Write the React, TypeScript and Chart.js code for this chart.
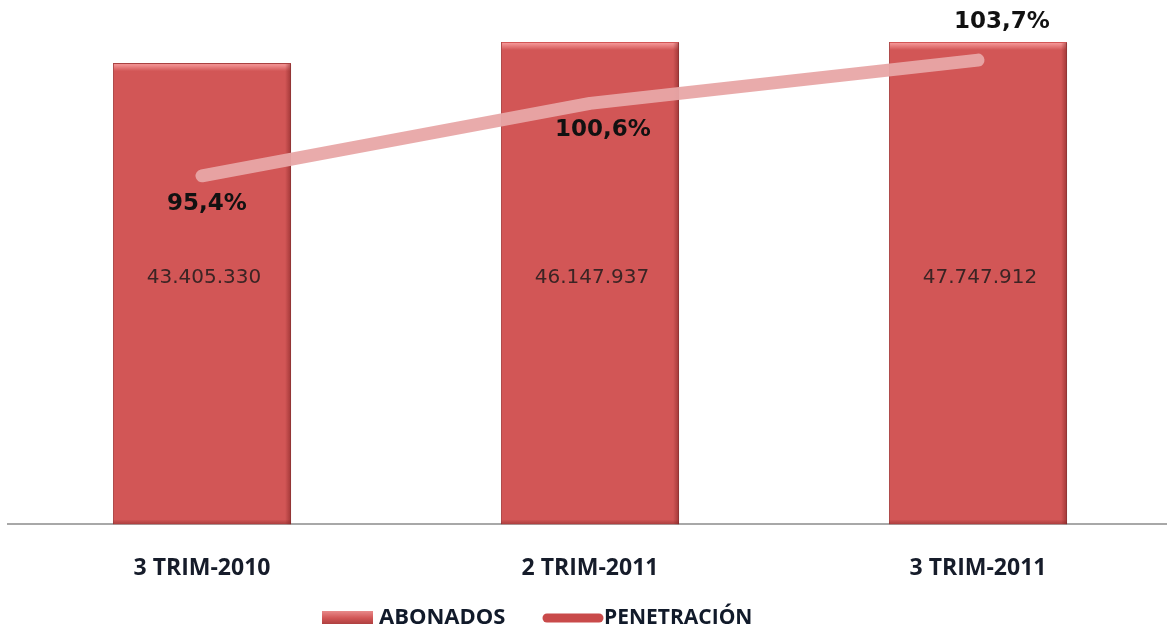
import { useEffect, useRef } from "react";
import { Chart, registerables } from "chart.js";

Chart.register(...registerables);

const categories = ["3 TRIM-2010", "2 TRIM-2011", "3 TRIM-2011"];
const abonados = [43405330, 46147937, 47747912];
const penetracion = [95.4, 100.6, 103.7];
const seriesNames = ["ABONADOS", "PENETRACIÓN"];

// label offsets (styling only) relative to the line points
const pctOffsets = [
  [5, 28],
  [13, 27],
  [24, -38],
];

const BAR_COLOR = "#d25656";
const BAR_BORDER = "#a94242";
const LINE_COLOR = "rgba(232,166,166,0.95)";

function fmtThousands(v: number) {
  return String(Math.round(v)).replace(/\B(?=(\d{3})+(?!\d))/g, ".");
}
function fmtPct(v: number) {
  return v.toFixed(1).replace(".", ",") + "%";
}

const bevelPlugin = {
  id: "bevel",
  afterDatasetDraw(chart: any, args: any) {
    if (args.index !== 0) return;
    const { ctx, chartArea } = chart;
    const meta = chart.getDatasetMeta(0);
    ctx.save();
    ctx.beginPath();
    ctx.rect(chartArea.left, chartArea.top, chartArea.right - chartArea.left, chartArea.bottom - chartArea.top);
    ctx.clip();
    meta.data.forEach((bar: any) => {
      const left = bar.x - bar.width / 2;
      const right = bar.x + bar.width / 2;
      const top = Math.max(bar.y, chartArea.top);
      const bottom = bar.base;
      const g = ctx.createLinearGradient(0, top, 0, top + 8);
      g.addColorStop(0, "rgba(255,170,170,0.9)");
      g.addColorStop(1, "rgba(255,170,170,0)");
      ctx.fillStyle = g;
      ctx.fillRect(left + 1, top + 1, bar.width - 2, 8);
      const gr = ctx.createLinearGradient(right - 6, 0, right, 0);
      gr.addColorStop(0, "rgba(120,30,30,0)");
      gr.addColorStop(1, "rgba(120,30,30,0.55)");
      ctx.fillStyle = gr;
      ctx.fillRect(right - 6, top + 1, 6, bottom - top - 1);
      const gb = ctx.createLinearGradient(0, bottom - 5, 0, bottom);
      gb.addColorStop(0, "rgba(120,30,30,0)");
      gb.addColorStop(1, "rgba(120,30,30,0.45)");
      ctx.fillStyle = gb;
      ctx.fillRect(left, bottom - 5, bar.width, 5);
    });
    ctx.restore();
  },
};

const labelsPlugin = {
  id: "valueLabels",
  afterDatasetsDraw(chart: any) {
    const { ctx } = chart;
    const barMeta = chart.getDatasetMeta(0);
    const lineMeta = chart.getDatasetMeta(1);
    ctx.save();
    ctx.textAlign = "center";
    ctx.textBaseline = "middle";
    ctx.fillStyle = "#3b2424";
    ctx.font = "20px 'DejaVu Sans'";
    barMeta.data.forEach((bar: any, i: number) => {
      ctx.fillText(fmtThousands(abonados[i]), bar.x + 2, 278);
    });
    ctx.fillStyle = "#111111";
    ctx.font = "bold 23px 'DejaVu Sans'";
    lineMeta.data.forEach((pt: any, i: number) => {
      const [dx, dy] = pctOffsets[i];
      ctx.fillText(fmtPct(penetracion[i]), pt.x + dx, pt.y + dy);
    });
    ctx.restore();
  },
};

const legendPlugin = {
  id: "customLegend",
  afterDraw(chart: any) {
    const { ctx } = chart;
    const y = 618;
    ctx.save();
    const g = ctx.createLinearGradient(0, y - 7, 0, y + 7);
    g.addColorStop(0, "#e88a8a");
    g.addColorStop(0.5, "#d25656");
    g.addColorStop(1, "#a83c3c");
    ctx.fillStyle = g;
    ctx.fillRect(322, y - 7, 51, 13);
    ctx.fillStyle = "#111a2a";
    ctx.font = "bold 22px 'Open Sans'";
    ctx.textBaseline = "middle";
    ctx.textAlign = "left";
    ctx.fillText(seriesNames[0], 379, y);
    ctx.strokeStyle = "#c94a4a";
    ctx.lineWidth = 9;
    ctx.lineCap = "round";
    ctx.beginPath();
    ctx.moveTo(547, y);
    ctx.lineTo(599, y);
    ctx.stroke();
    ctx.font = "bold 21px 'Open Sans'";
    ctx.fillText(seriesNames[1], 604, y);
    ctx.restore();
  },
};

export default function App() {
  const ref = useRef<HTMLCanvasElement | null>(null);
  useEffect(() => {
    if (!ref.current) return;
    const chart = new Chart(ref.current, {
      type: "bar",
      data: {
        labels: categories,
        datasets: [
          {
            type: "bar",
            label: seriesNames[0],
            data: abonados,
            backgroundColor: BAR_COLOR,
            borderColor: BAR_BORDER,
            borderWidth: 1,
            yAxisID: "y",
            order: 1,
            categoryPercentage: 1,
            barPercentage: 0.459,
          },
          {
            type: "line",
            label: seriesNames[1],
            data: penetracion,
            borderColor: LINE_COLOR,
            borderWidth: 13,
            borderCapStyle: "round",
            borderJoinStyle: "round",
            pointRadius: 0,
            tension: 0,
            yAxisID: "y2",
            order: 0,
            clip: false,
          } as any,
        ],
      },
      options: {
        responsive: false,
        animation: false,
        events: [],
        layout: { padding: { top: 42, left: 8, right: 0, bottom: 18 } },
        plugins: {
          legend: { display: false },
          tooltip: { enabled: false },
        },
        scales: {
          x: {
            grid: { display: false, drawTicks: false },
            border: { display: true, color: "#a8a8a8", width: 2 },
            ticks: {
              padding: 30,
              color: "#161c2a",
              font: { family: "'Open Sans'", weight: "bold", size: 23 },
            },
          },
          y: {
            display: false,
            min: 0,
            max: 45390000,
          },
          y2: {
            display: false,
            position: "right",
            min: 70.4,
            max: 105.0,
          },
        },
      },
      plugins: [bevelPlugin, labelsPlugin, legendPlugin],
    });
    return () => chart.destroy();
  }, []);
  return (
    <div style={{ position: "absolute", left: 0, top: 0, width: 1167, height: 630, overflow: "hidden", background: "#fff" }}>
      <canvas ref={ref} width={1172} height={630} style={{ display: "block" }} />
    </div>
  );
}
